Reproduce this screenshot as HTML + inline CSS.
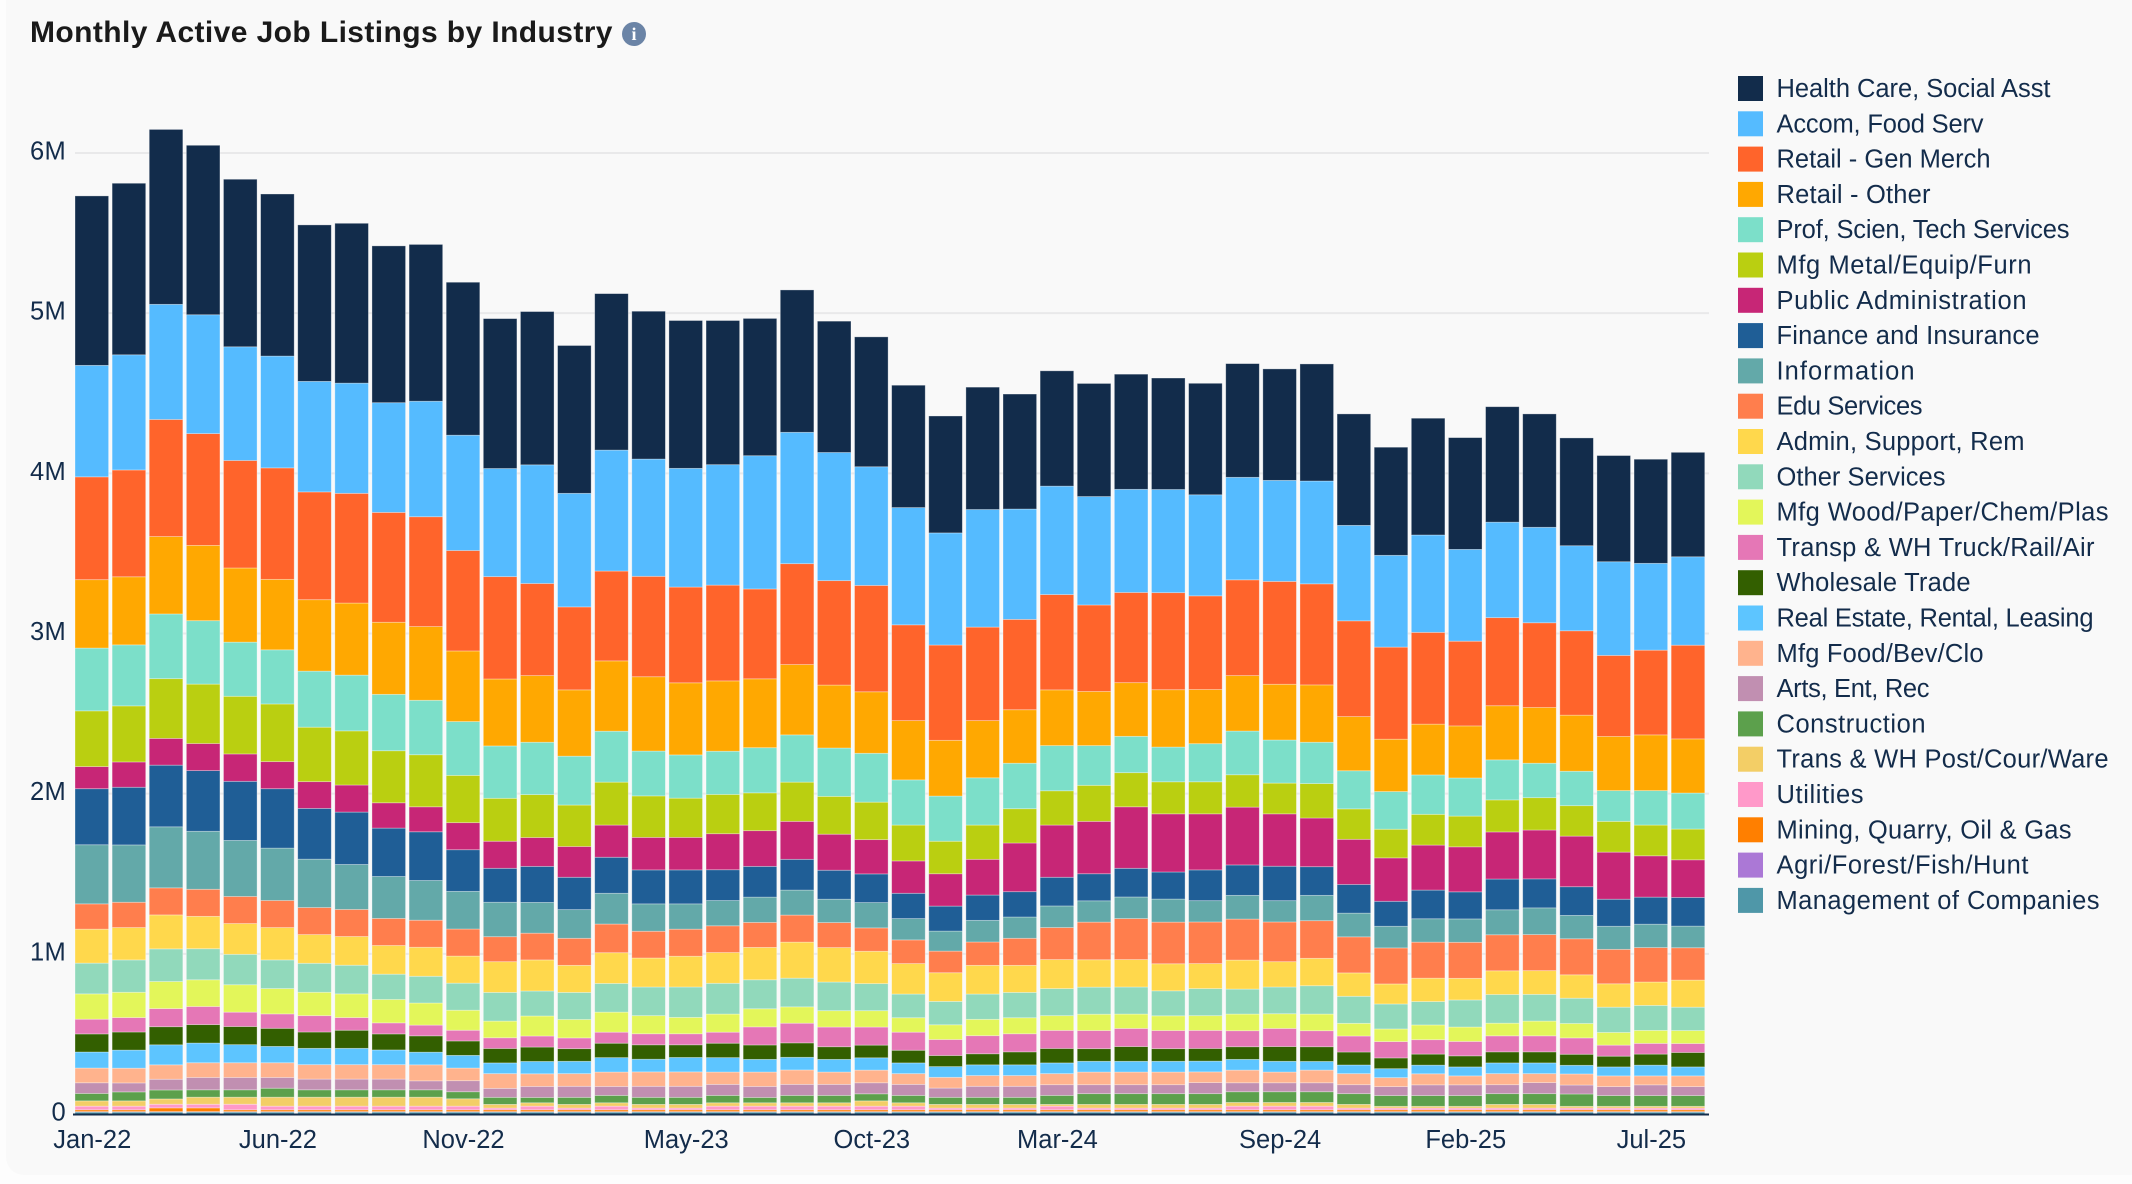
<!DOCTYPE html>
<html>
<head>
<meta charset="utf-8">
<title>Monthly Active Job Listings by Industry</title>
<style>
html,body{margin:0;padding:0;width:2132px;height:1184px;overflow:hidden;background:#fdfdfd;}
#card{position:absolute;left:6px;top:0;width:2126px;height:1175px;background:#f9f9f9;border-radius:0 0 0 18px;}
#title{position:absolute;left:30px;top:15px;font:bold 30px "Liberation Sans",sans-serif;letter-spacing:.4px;color:#1a1a1a;line-height:36px;white-space:nowrap;}
#info{position:absolute;left:622px;top:22px;width:24px;height:24px;border-radius:50%;background:#6b84a6;color:#fff;font:bold 18px/24px "Liberation Serif",serif;text-align:center;}
svg{position:absolute;left:0;top:0;}
text{font-family:"Liberation Sans",sans-serif;fill:#132c4b;}
</style>
</head>
<body>
<div id="card"></div>
<div id="title">Monthly Active Job Listings by Industry</div>
<div id="info">i</div>
<svg id="chart" width="2132" height="1184" viewBox="0 0 2132 1184"></svg>
<script>
const categories = ['Jan-22','Feb-22','Mar-22','Apr-22','May-22','Jun-22','Jul-22','Aug-22','Sep-22','Oct-22','Nov-22','Dec-22','Jan-23','Feb-23','Mar-23','Apr-23','May-23','Jun-23','Jul-23','Aug-23','Sep-23','Oct-23','Nov-23','Dec-23','Jan-24','Feb-24','Mar-24','Apr-24','May-24','Jun-24','Jul-24','Aug-24','Sep-24','Oct-24','Nov-24','Dec-24','Jan-25','Feb-25','Mar-25','Apr-25','May-25','Jun-25','Jul-25','Aug-25'];
const xTickLabels = ['Jan-22','Jun-22','Nov-22','May-23','Oct-23','Mar-24','Sep-24','Feb-25','Jul-25'];
const yTickValues = [0,1000,2000,3000,4000,5000,6000];
const yTickLabels = ['0','1M','2M','3M','4M','5M','6M'];

/* values in thousands of listings */
const health = [1058,1071,1092,1058,1046,1012,977,998,979,979,955,936,957,923,977,923,923,900,857,889,820,811,764,730,764,718,720,706,719,696,696,710,696,731,696,675,729,698,721,708,673,663,650,652];
const accom = [696,719,719,742,710,698,690,688,685,721,720,675,741,709,755,732,741,752,832,820,800,741,732,700,734,689,677,677,644,644,631,640,631,642,596,573,608,573,596,596,531,585,542,552];
const retailGen = [642,667,731,698,671,696,673,685,686,686,627,639,575,518,561,627,598,598,561,630,652,664,598,595,584,564,595,540,563,606,585,598,642,631,598,575,573,529,550,529,527,506,529,585];
const retailOther = [427,425,483,470,463,440,446,450,450,460,441,418,416,414,439,464,450,439,430,439,393,384,370,348,357,334,348,338,335,358,338,346,348,358,338,327,317,325,338,348,350,338,348,338];
const prof = [392,381,404,396,338,338,350,348,352,340,336,327,327,305,318,280,270,270,282,295,302,305,282,282,295,284,282,248,227,217,238,273,269,258,238,235,246,238,250,215,215,192,215,225];
const metal = [348,350,373,371,360,360,340,338,325,325,295,268,268,259,268,259,245,245,236,245,236,234,224,203,214,214,214,225,213,200,200,202,192,215,190,179,192,192,200,202,190,192,192,192];
const publicAdmin = [138,158,167,169,171,169,167,169,158,156,169,169,180,192,201,203,203,225,223,237,225,214,202,202,223,304,326,327,384,363,350,361,327,304,282,271,281,281,294,305,316,294,258,235];
const finance = [350,360,385,379,369,371,317,327,302,304,260,212,225,202,225,212,212,192,192,192,181,179,158,156,158,158,179,169,179,169,192,190,215,179,179,156,179,169,192,181,179,169,169,179];
const information = [369,358,381,362,350,327,302,281,262,248,235,215,192,179,192,171,158,158,158,156,146,158,133,125,135,133,135,133,135,144,133,148,133,158,148,135,146,146,156,167,146,144,146,135];
const edu = [158,158,169,169,169,169,169,169,169,169,169,156,167,169,179,167,169,167,156,169,156,146,148,135,146,169,200,235,256,260,260,256,248,235,225,225,225,225,225,225,225,215,215,202];
const admin = [212,202,212,202,192,202,179,179,179,181,169,192,194,169,192,181,192,192,202,225,215,202,190,179,179,169,181,171,171,169,156,181,158,171,146,125,146,135,148,148,146,146,146,169];
const otherServices = [192,202,204,194,190,179,181,179,158,167,169,179,156,169,179,179,190,192,181,179,179,169,148,146,158,158,169,169,169,156,169,156,167,177,169,156,146,169,179,167,158,158,156,146];
const wood = [158,158,169,167,171,158,146,148,146,138,125,104,125,115,125,113,102,113,113,102,102,102,90,92,102,100,92,102,90,92,92,104,92,104,79,79,92,90,79,92,90,79,81,81];
const transp = [92,90,113,113,90,90,102,79,69,67,67,67,69,67,69,69,69,69,113,123,123,113,113,100,113,113,113,113,113,113,113,100,113,100,100,102,90,90,100,100,102,69,67,56];
const wholesale = [113,113,113,115,113,113,102,113,100,102,90,90,90,79,90,90,79,90,90,90,79,79,79,69,69,81,90,79,92,79,79,79,92,92,81,67,69,69,69,69,69,67,69,90];
const realEstate = [100,113,125,123,113,102,102,102,92,79,79,67,77,77,90,79,90,90,79,79,79,77,67,67,67,67,67,67,67,67,67,67,67,54,54,56,54,56,67,67,54,56,67,56];
const food = [92,92,90,92,92,92,90,90,90,100,79,92,79,79,90,90,90,77,90,90,77,79,67,67,67,67,69,79,79,79,67,79,67,79,69,56,69,56,69,56,69,67,56,67];
const arts = [67,56,67,77,77,67,67,67,67,56,69,56,69,69,56,69,69,69,69,69,69,69,69,58,69,69,67,56,56,56,69,56,56,56,56,56,67,67,56,69,56,56,67,56];
const construction = [46,56,56,46,46,56,46,46,46,46,44,44,33,44,46,44,44,46,33,46,46,44,46,44,44,44,56,67,67,67,67,67,67,67,67,67,67,67,67,67,77,67,67,67];
const transPost = [33,33,33,44,44,56,56,56,56,56,46,23,21,23,21,23,23,21,21,21,21,33,21,23,23,23,11,23,23,23,23,23,23,23,23,11,11,11,23,23,11,11,11,11];
const utilities = [23,23,23,23,35,23,23,23,23,23,23,11,23,11,23,11,11,23,23,23,23,23,23,11,11,11,23,11,11,11,11,23,23,23,11,11,11,11,11,11,11,11,11,11];
const mining = [11,11,23,23,11,11,11,11,11,11,11,11,11,11,11,11,11,11,11,11,11,11,11,11,11,11,11,11,11,11,11,11,11,11,11,11,11,11,11,11,11,11,11,11];
const agri = [3,3,3,3,3,3,3,3,3,3,3,3,3,3,3,3,3,3,3,3,3,3,3,3,3,3,3,3,3,3,3,3,3,3,3,3,3,3,3,3,3,3,3,3];
const management = [12,12,12,12,12,12,12,12,12,12,12,12,12,12,12,12,12,12,12,12,12,12,12,12,12,12,12,12,12,12,12,12,12,12,12,12,12,12,12,12,12,12,12,12];

const seriesNames = ['Health Care, Social Asst','Accom, Food Serv','Retail - Gen Merch','Retail - Other','Prof, Scien, Tech Services','Mfg Metal/Equip/Furn','Public Administration','Finance and Insurance','Information','Edu Services','Admin, Support, Rem','Other Services','Mfg Wood/Paper/Chem/Plas','Transp & WH Truck/Rail/Air','Wholesale Trade','Real Estate, Rental, Leasing','Mfg Food/Bev/Clo','Arts, Ent, Rec','Construction','Trans & WH Post/Cour/Ware','Utilities','Mining, Quarry, Oil & Gas','Agri/Forest/Fish/Hunt','Management of Companies'];
const seriesValues = [health,accom,retailGen,retailOther,prof,metal,publicAdmin,finance,information,edu,admin,otherServices,wood,transp,wholesale,realEstate,food,arts,construction,transPost,utilities,mining,agri,management];
const seriesColors = ['#122c4b','#55bbff','#ff642b','#ffa801','#7cdfc9','#bacf11','#c72676','#1f5e96','#63a9a9','#ff7e4d','#ffd84c','#91d9bb','#e3f65a','#e577b6','#335f00','#5dc5ff','#ffb38d','#c18fb1','#5ca04c','#f3ce66','#ff99c9','#ff7f00','#ab78d6','#4f97a8'];
const legendLabelWidths = [274,207,214,154,293,255,250,263,138,146,248,169,332,318,194,317,207,153,149,332,87,295,252,323];

const svg = document.getElementById('chart');
const NS = 'http://www.w3.org/2000/svg';
function make(tag, attrs) {
  const el = document.createElementNS(NS, tag);
  for (const k in attrs) el.setAttribute(k, attrs[k]);
  return el;
}

const plot = {left: 75, right: 1709, zeroY: 1114, yPerK: 0.16017, step: 37.12, barW: 33.6};
function xScale(i) { return plot.left + plot.step * i; }
function yScale(v) { return plot.zeroY - v * plot.yPerK; }
function slug(s) { return s.toLowerCase().replace(/[^a-z0-9]+/g, '-').replace(/^-|-$/g, ''); }

/* gridlines + y ticks */
yTickValues.forEach(function (v, i) {
  if (v > 0) {
    const line = make('line', {x1: plot.left, x2: plot.right, y1: yScale(v), y2: yScale(v), stroke: '#e9e9ea', 'stroke-width': 2});
    
    
    svg.appendChild(line);
  }
  const t = make('text', {x: 66, y: yScale(v) + 6.5, 'text-anchor': 'end', 'font-size': 25.5, 'letter-spacing': 0.3});
  t.textContent = yTickLabels[i];
  
  
  svg.appendChild(t);
});

/* stacked bars: last series sits on the baseline */
categories.forEach(function (cat, i) {
  const g = make('g', {});
  
  
  let cum = 0;
  for (let s = seriesValues.length - 1; s >= 0; s--) {
    const v = seriesValues[s][i];
    const yTop = yScale(cum + v);
    const yBot = yScale(cum);
    const r = make('rect', {x: xScale(i), y: yTop, width: plot.barW, height: yBot - yTop, fill: seriesColors[s], stroke: '#ffffff', 'stroke-opacity': 0.4, 'stroke-width': 0.8});
    
    
    g.appendChild(r);
    cum += v;
  }
  svg.appendChild(g);
});

/* x axis */
const axis = make('line', {x1: 73, x2: plot.right, y1: plot.zeroY + 0.5, y2: plot.zeroY + 0.5, stroke: '#132c4b', 'stroke-width': 2});


svg.appendChild(axis);

xTickLabels.forEach(function (label) {
  const i = categories.indexOf(label);
  const t = make('text', {x: xScale(i) + plot.barW / 2 + 0.5, y: 1148, 'text-anchor': 'middle', 'font-size': 25.5});
  t.textContent = label;
  
  
  svg.appendChild(t);
});

/* legend */
seriesNames.forEach(function (name, s) {
  const g = make('g', {});
  
  
  const y = 76 + 35.3 * s;
  const box = make('rect', {x: 1738, y: y, width: 25, height: 25, fill: seriesColors[s]});
  
  
  g.appendChild(box);
  const t = make('text', {x: 1776.5, y: y + 21, 'font-size': 25.5, textLength: legendLabelWidths[s], lengthAdjust: 'spacing'});
  t.textContent = name;
  
  
  g.appendChild(t);
  svg.appendChild(g);
});
</script>
</body>
</html>
